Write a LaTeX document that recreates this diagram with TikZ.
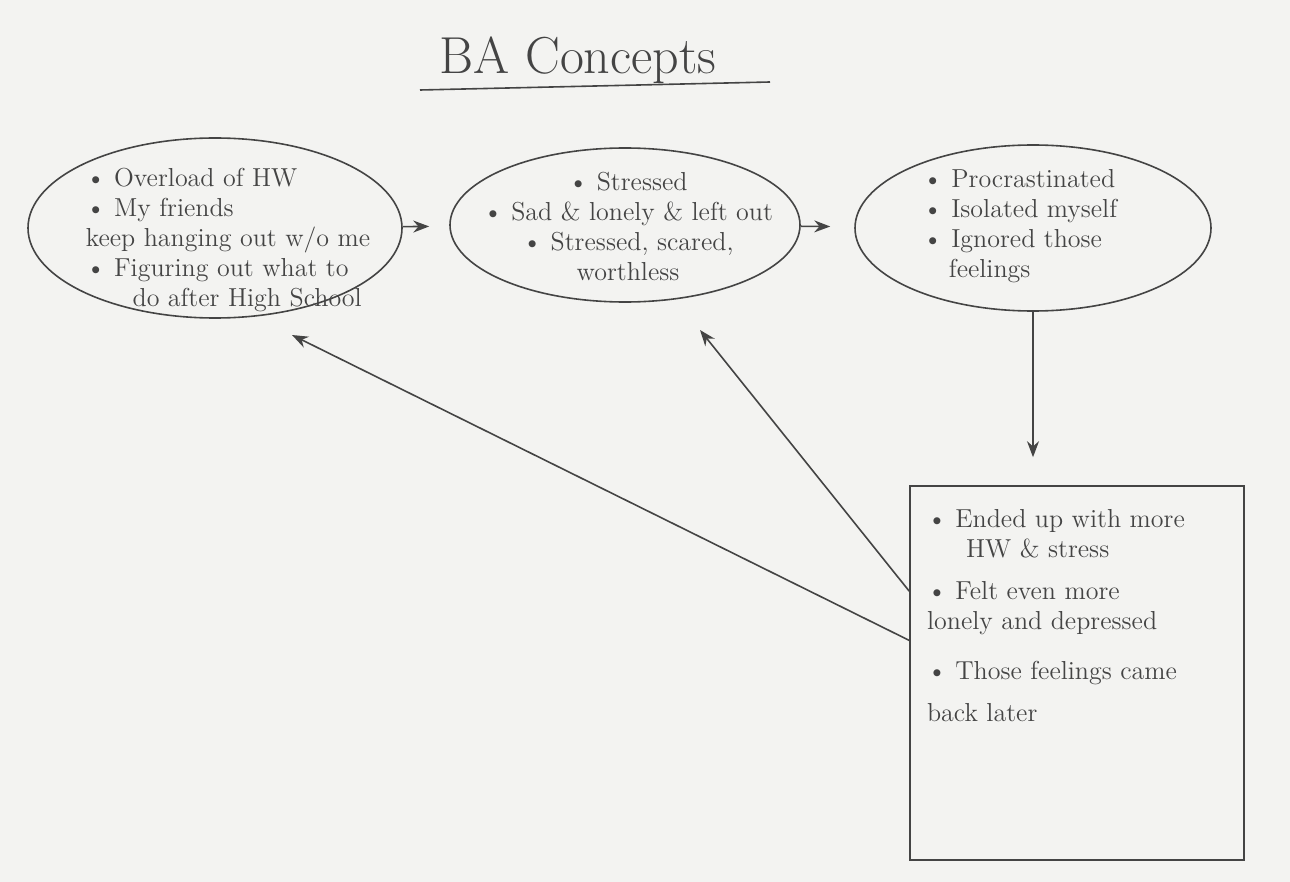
\documentclass[tikz,border=0pt]{standalone}
\usetikzlibrary{shapes.geometric,arrows.meta}
\definecolor{paper}{RGB}{243,243,241}
\definecolor{pencil}{RGB}{68,68,68}
\tikzset{
  bubble/.style={ellipse, draw=pencil, thick, inner sep=0pt},
  sheet/.style={rectangle, draw=pencil, thick, inner sep=0pt},
  note/.style={text=pencil, font=\fontsize{13}{15}\selectfont},
  flow/.style={pencil, thick, -{Stealth[length=8pt,width=6pt]}},
}
\begin{document}
\begin{tikzpicture}[x=0.5pt, y=-0.5pt]
                \fill[paper] (0,0) rectangle (1290,882);
                \useasboundingbox (0,0) rectangle (1290,882);
                \node[note, font=\fontsize{26}{30}\selectfont] (title) at (578,60) {BA Concepts};
                \draw[pencil, thick] (420,90) -- (770,82);
                \node[bubble, minimum width=187pt, minimum height=90pt] (e1) at (215,228) {};
                \node[bubble, minimum width=175pt, minimum height=77pt] (e2) at (625,225) {};
                \node[bubble, minimum width=178pt, minimum height=83pt] (e3) at (1033,228) {};
                \node[sheet, minimum width=167pt, minimum height=187pt] (box) at (1077,673) {};
                \node[note, align=left] (t1) at (228,240) {\textbullet\ Overload of HW\\
                  \textbullet\ My friends\\
                  keep hanging out w/o me\\
                  \textbullet\ Figuring out what to\\
                  \hspace{1.8em}do after High School};
                \node[note, align=center] (t2) at (628,226) {\textbullet\ Stressed\\
                  \textbullet\ Sad \& lonely \& left out\\
                  \textbullet\ Stressed, scared,\\
                  worthless};
                \node[note, align=left] (t3) at (1020,226) {\textbullet\ Procrastinated\\
                  \textbullet\ Isolated myself\\
                  \textbullet\ Ignored those\\
                  \hspace{1em}feelings};
                \node[note, align=left, anchor=north west] (t4) at (920,502) {\textbullet\ Ended up with more\\
                  \hspace{1.5em}HW \& stress\\[6pt]
                  \textbullet\ Felt even more\\
                  lonely and depressed\\[10pt]
                  \textbullet\ Those feelings came\\[6pt]
                  back later};
                \coordinate (into1) at (292,335);
                \coordinate (into2) at (700,330);
                \draw[flow, shorten >=10pt] (e1) -- (e2);
                \draw[flow, shorten >=12pt] (e2) -- (e3);
                \draw[flow, shorten >=14pt] (e3.south) -- (e3.south |- box.north);
                \draw[flow] (box.154) -- (into2);
                \draw[flow] (box.169) -- (into1);
\end{tikzpicture}
\end{document}
